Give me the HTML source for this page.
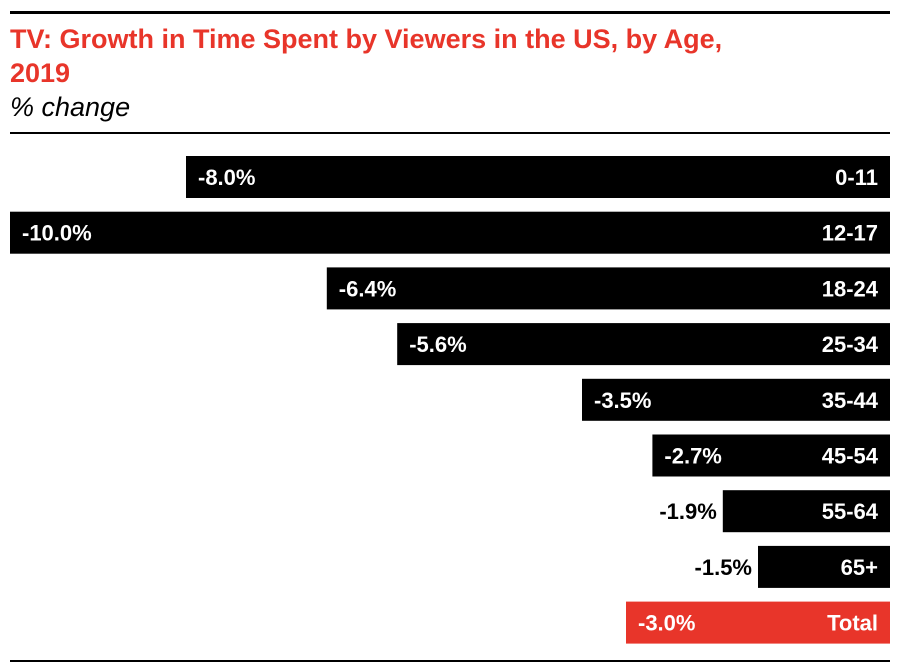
<!DOCTYPE html>
<html><head><meta charset="utf-8"><style>
body{margin:0;width:900px;height:672px;background:#fff;font-family:"Liberation Sans",sans-serif;overflow:hidden;position:relative}
.rule{position:absolute;left:10px;width:880px;background:#000}
#title{position:absolute;left:10px;top:22px;font-size:27px;font-weight:bold;color:#e8352a;line-height:34px;width:880px}
#sub{position:absolute;left:10px;top:92px;font-size:27px;font-style:italic;color:#000}
</style></head><body>
<div class="rule" style="top:11px;height:3px"></div>
<div id="title">TV: Growth in Time Spent by Viewers in the US, by Age,<br>2019</div>
<div id="sub">% change</div>
<div class="rule" style="top:132px;height:2px"></div>
<svg id="chart" width="900" height="672" style="position:absolute;left:0;top:0"></svg>
<div class="rule" style="top:660px;height:2px"></div>
<script>
const categories=["0-11","12-17","18-24","25-34","35-44","45-54","55-64","65+","Total"];
const values=[-8.0,-10.0,-6.4,-5.6,-3.5,-2.7,-1.9,-1.5,-3.0];
const labels=["-8.0%","-10.0%","-6.4%","-5.6%","-3.5%","-2.7%","-1.9%","-1.5%","-3.0%"];
const svg=document.getElementById('chart');
const NS='http://www.w3.org/2000/svg';
const x=v=>890+v*88;
const y=i=>156+i*55.7;
const bh=42;
categories.forEach((c,i)=>{
  const r=document.createElementNS(NS,'rect');
  
  
  const l=x(values[i]);
  r.setAttribute('x',l);r.setAttribute('y',y(i));
  r.setAttribute('width',890-l);r.setAttribute('height',bh);
  r.setAttribute('fill',c==='Total'?'#e8352a':'#000');
  svg.appendChild(r);
  const t=document.createElementNS(NS,'text');
  
  
  t.setAttribute('x',878);t.setAttribute('y',y(i)+29);
  t.setAttribute('text-anchor','end');t.setAttribute('fill','#fff');
  t.setAttribute('font-size','22');t.setAttribute('font-weight','bold');
  t.textContent=c;svg.appendChild(t);
  const v=document.createElementNS(NS,'text');
  
  
  const inside=(890-l)>200;
  v.setAttribute('x',inside?l+12:l-6);
  v.setAttribute('text-anchor',inside?'start':'end');
  v.setAttribute('y',y(i)+29);
  v.setAttribute('fill',inside?'#fff':'#000');
  v.setAttribute('font-size','22');v.setAttribute('font-weight','bold');
  v.textContent=labels[i];svg.appendChild(v);
});
</script>
</body></html>
